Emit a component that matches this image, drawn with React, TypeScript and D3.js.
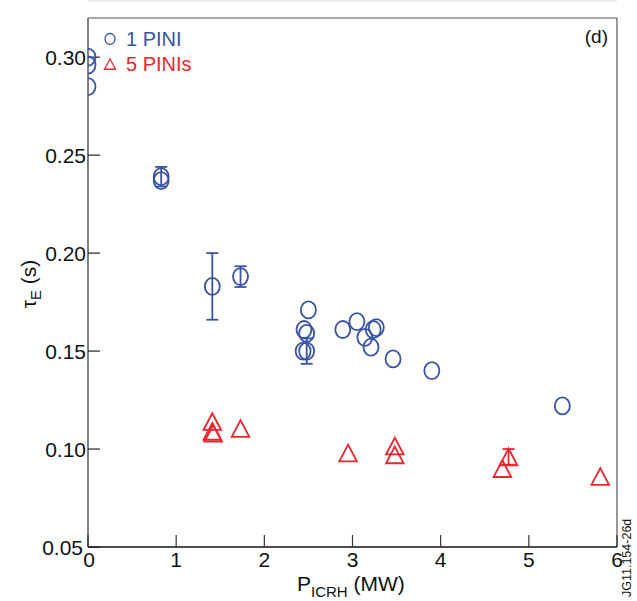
import { useEffect, useRef } from 'react'
import * as d3 from 'd3'

// 1 PINI (circles)
const onePiniP = [0, 0, 0, 0.83, 0.83, 1.41, 1.73, 2.50, 2.45, 2.48, 2.44, 2.48, 2.89, 3.05, 3.14, 3.21, 3.235, 3.27, 3.46, 3.90, 5.38]
const onePiniTau = [0.300, 0.296, 0.285, 0.239, 0.237, 0.183, 0.188, 0.171, 0.161, 0.159, 0.150, 0.150, 0.161, 0.165, 0.157, 0.152, 0.161, 0.162, 0.146, 0.140, 0.122]
const onePiniErr = [0, 0, 0, 0.005, 0, 0.017, 0.0053, 0, 0, 0, 0, 0.0065, 0, 0, 0, 0, 0, 0, 0, 0, 0]

// 5 PINIs (triangles)
const fivePiniP = [1.41, 1.41, 1.42, 1.73, 2.95, 3.48, 3.48, 4.70, 4.77, 5.81]
const fivePiniTau = [0.114, 0.109, 0.108, 0.1105, 0.098, 0.1015, 0.097, 0.090, 0.096, 0.086]
const fivePiniErr = [0, 0, 0, 0, 0, 0, 0, 0, 0.004, 0]

const xTicks = [0, 1, 2, 3, 4, 5, 6]
const yTicks = [0.05, 0.10, 0.15, 0.20, 0.25, 0.30]

const BLUE = '#3a53a4'
const RED = '#e8262d'
const FONT = '"Liberation Sans", Arial, Helvetica, sans-serif'

export default function App() {
  const svgRef = useRef<SVGSVGElement>(null)

  useEffect(() => {
    if (!svgRef.current) return
    const W = 637, H = 601
    const left = 88, right = 617, top = 18, bottom = 547

    const svg = d3.select(svgRef.current)
    svg.selectAll('*').remove()
    svg.attr('width', W).attr('height', H)

    const x = d3.scaleLinear().domain([0, 6]).range([left, right])
    const y = d3.scaleLinear().domain([0.05, 0.32]).range([bottom, top])

    // faint line at the top of the page
    svg.append('rect').attr('x', left).attr('y', 0).attr('width', right - left).attr('height', 2).attr('fill', '#ececec')

    // clip to frame
    svg.append('clipPath').attr('id', 'plotclip')
      .append('rect').attr('x', left).attr('y', top).attr('width', right - left).attr('height', bottom - top)

    // frame
    svg.append('line').attr('x1', left).attr('x2', right).attr('y1', top).attr('y2', top).attr('stroke', '#555').attr('stroke-width', 1.2)
    svg.append('line').attr('x1', right).attr('x2', right).attr('y1', top).attr('y2', bottom).attr('stroke', '#555').attr('stroke-width', 1.2)
    svg.append('line').attr('x1', left).attr('x2', left).attr('y1', top).attr('y2', bottom).attr('stroke', '#555').attr('stroke-width', 1.5)
    svg.append('line').attr('x1', left).attr('x2', right).attr('y1', bottom).attr('y2', bottom).attr('stroke', '#111').attr('stroke-width', 1.5)

    // ticks
    xTicks.forEach(t => {
      svg.append('line').attr('x1', x(t)).attr('x2', x(t)).attr('y1', bottom).attr('y2', bottom - 12).attr('stroke', '#333').attr('stroke-width', 1.2)
      svg.append('text').attr('x', x(t) + (t === 0 ? 1 : 0)).attr('y', 567).attr('text-anchor', 'middle')
        .attr('font-family', FONT).attr('font-size', 21).attr('fill', '#111').text(t)
    })
    yTicks.forEach(t => {
      svg.append('line').attr('x1', left).attr('x2', left + 12).attr('y1', y(t)).attr('y2', y(t)).attr('stroke', '#222').attr('stroke-width', 1.2)
      svg.append('text').attr('x', t === 0.05 ? 83 : 86).attr('y', y(t) + 7.5).attr('text-anchor', 'end')
        .attr('font-family', FONT).attr('font-size', 21).attr('fill', '#111').text(t.toFixed(2))
    })

    // axis titles
    const xl = svg.append('text').attr('x', 297).attr('y', 591).attr('font-family', FONT).attr('font-size', 21).attr('fill', '#111')
    xl.append('tspan').text('P')
    xl.append('tspan').attr('font-size', 15).attr('dy', 6).text('ICRH')
    xl.append('tspan').attr('dy', -6).text(' (MW)')

    const yl = svg.append('text').attr('transform', 'translate(36,284) rotate(-90)').attr('text-anchor', 'middle')
      .attr('font-family', FONT).attr('font-size', 21).attr('fill', '#111')
    yl.append('tspan').text('τ')
    yl.append('tspan').attr('font-size', 15).attr('dy', 5).text('E')
    yl.append('tspan').attr('dy', -5).text(' (s)')

    const plot = svg.append('g').attr('clip-path', 'url(#plotclip)')

    // error bars
    const errBar = (px: number, py: number, e: number, color: string) => {
      if (!e) return
      const cx = x(px)
      plot.append('line').attr('x1', cx).attr('x2', cx).attr('y1', y(py + e)).attr('y2', y(py - e)).attr('stroke', color).attr('stroke-width', 1.8)
      ;[py + e, py - e].forEach(v => {
        plot.append('line').attr('x1', cx - 6).attr('x2', cx + 6).attr('y1', y(v)).attr('y2', y(v)).attr('stroke', color).attr('stroke-width', 1.8)
      })
    }
    onePiniP.forEach((p, i) => errBar(p, onePiniTau[i], onePiniErr[i], BLUE))
    fivePiniP.forEach((p, i) => errBar(p, fivePiniTau[i], fivePiniErr[i], RED))

    // circles
    onePiniP.forEach((p, i) => {
      plot.append('ellipse').attr('cx', x(p)).attr('cy', y(onePiniTau[i])).attr('rx', 7.5).attr('ry', 8.5)
        .attr('fill', 'none').attr('stroke', BLUE).attr('stroke-width', 1.8)
    })

    // triangles
    const tri = (cx: number, cy: number, s: number) =>
      `M${cx},${cy - s * 0.95} L${cx + s},${cy + s * 0.95} L${cx - s},${cy + s * 0.95} Z`
    fivePiniP.forEach((p, i) => {
      plot.append('path').attr('d', tri(x(p), y(fivePiniTau[i]), 8.8))
        .attr('fill', 'none').attr('stroke', RED).attr('stroke-width', 1.8)
    })

    // legend
    svg.append('ellipse').attr('cx', 110).attr('cy', 39).attr('rx', 5).attr('ry', 5.5).attr('fill', 'none').attr('stroke', BLUE).attr('stroke-width', 1.3)
    svg.append('text').attr('x', 126).attr('y', 46).attr('font-family', FONT).attr('font-size', 20).attr('fill', BLUE).text('1 PINI')
    svg.append('path').attr('d', tri(110, 64, 5.5)).attr('fill', 'none').attr('stroke', RED).attr('stroke-width', 1.3)
    svg.append('text').attr('x', 126).attr('y', 71).attr('font-family', FONT).attr('font-size', 20).attr('fill', RED).text('5 PINIs')

    // panel label
    svg.append('text').attr('x', 608).attr('y', 43).attr('text-anchor', 'end').attr('font-family', FONT).attr('font-size', 19).attr('fill', '#111').text('(d)')

    // figure id
    svg.append('text').attr('transform', 'translate(631,597) rotate(-90)').attr('font-family', FONT).attr('font-size', 12.5).attr('fill', '#111').text('JG11.154-26d')
  }, [])

  return (
    <div style={{ position: 'absolute', left: 0, top: 0 }}>
      <svg ref={svgRef} style={{ display: 'block', background: '#fff' }} />
    </div>
  )
}
